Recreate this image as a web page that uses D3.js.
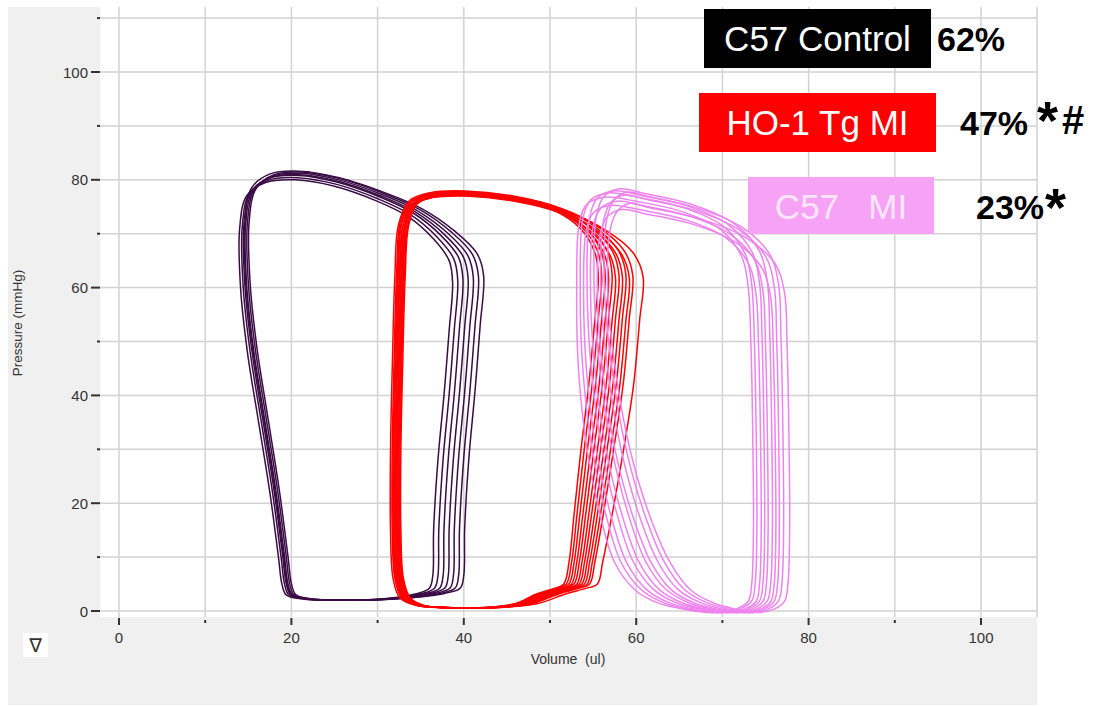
<!DOCTYPE html>
<html>
<head>
<meta charset="utf-8">
<script src="https://cdn.jsdelivr.net/npm/d3@7"></script>
<style>
  body { margin: 0; background: #fff; }
  svg { display: block; font-family: "Liberation Sans", Arial, sans-serif; }
</style>
</head>
<body>
<svg id="chart" width="1102" height="707"></svg>
<script>
// axis ticks
const xMajor = [0, 20, 40, 60, 80, 100];
const xMinor = [10, 30, 50, 70, 90];
const yMajor = [0, 20, 40, 60, 80, 100];
const yMinor = [10, 30, 50, 70, 90, 110];

// loop outlines: [volume, pressure, left weight, right weight]
const controlLoop = [
  [19.4, 3.0, 1, 0], [21.5, 2.2, 0.8, 0], [26, 2.0, 0.5, 0.2], [31, 2.3, 0.2, 0.5],
  [34.5, 3.2, 0, 0.9], [36.0, 4.2, 0, 1], [36.4, 6.5, 0, 1], [36.5, 15, 0, 1],
  [37.0, 28, 0, 1], [37.7, 40, 0, 1], [38.3, 52, 0, 1], [38.7, 61, 0, 1],
  [38.3, 65, 0, 0.9], [36.5, 69, 0, 0.7], [33.5, 73.2, 0, 0.45], [30, 76.0, 0.1, 0.25],
  [25, 78.8, 0.3, 0.1], [20.5, 80.0, 0.6, 0], [17.0, 79.5, 0.9, 0], [14.8, 77.0, 1, 0],
  [14.0, 71, 1, 0], [14.1, 60, 1, 0], [14.9, 48, 1, 0], [16.2, 35, 1, 0],
  [17.5, 22, 1, 0], [18.5, 10, 1, 0], [18.9, 5, 1, 0]
];
// per cycle: [left shift, right shift, pressure change]
const controlCycles = [
  [0, 0, 0], [0.3, 0.6, 0.005], [0.5, 1.2, 0.01], [0.7, 1.8, 0.012],
  [0.9, 2.4, 0.015], [1.1, 3.0, 0.018], [0.6, 3.6, 0.02]
];

const hoLoop = [
  [32.6, 2.4, 1, 0], [34.5, 1.0, 0.8, 0], [38, 0.6, 0.5, 0.1], [43, 0.7, 0.2, 0.3],
  [46, 1.4, 0, 0.5], [48.5, 3.2, 0, 0.65], [50.5, 4.2, 0, 0.7], [51.6, 5.0, 0, 0.75],
  [52.2, 9, 0, 0.75], [52.8, 18, 0, 0.85], [53.6, 30, 0, 0.95], [54.5, 42, 0, 1],
  [55.2, 54, 0, 1], [55.6, 62, 0, 1], [55.2, 66.5, 0, 0.85], [53.5, 71.0, 0, 0.5],
  [50.5, 74.3, 0, 0.2], [46, 76.3, 0.1, 0], [40, 77.3, 0.3, 0], [36, 77.0, 0.6, 0],
  [33.5, 75.5, 0.9, 0], [32.4, 71.5, 1, 0], [32.0, 62, 1, 0], [31.7, 45, 1, 0],
  [31.5, 30, 1, 0], [31.5, 15, 1, 0], [31.8, 6, 1, 0]
];
const hoCycles = [
  [0, 0, 0], [0.3, 0.4, 0.003], [0.6, 0.8, 0.006], [0.9, 1.2, 0], [0.2, 1.6, 0.008],
  [0.5, 2.0, -0.004], [0.8, 2.4, 0.004], [1.1, 2.8, 0], [0.4, 3.2, 0.006],
  [0.7, 3.6, -0.003], [1.0, 4.0, 0.005], [1.2, 5.2, 0]
];

const miLoop = [
  [62.5, 1.5, 1.8, 0], [66, 0.2, 1.4, 0.2], [69, -0.3, 0.8, 0.5], [71.5, 0.3, 0.3, 0.8],
  [73.0, 1.8, 0, 1], [73.4, 5, 0, 1], [73.6, 15, 0, 1], [73.5, 35, 0, 1],
  [73.3, 50, 0, 1], [73.0, 60, 0, 1], [72.3, 65.5, 0, 0.9], [70.0, 70.5, 0, 0.6],
  [65.5, 74.0, 0.1, 0.3], [60, 76.0, 0.4, 0], [56.5, 76.8, 0.8, 0], [54.3, 75.5, 1, 0],
  [53.4, 72, 1, 0], [53.1, 60, 1, 0], [53.3, 45, 1.2, 0], [54.3, 30, 1.4, 0],
  [55.8, 18, 1.6, 0], [57.5, 9, 1.8, 0], [59.8, 4, 1.8, 0]
];
const miCycles = [
  [0, 0, 0], [0.4, 0.4, 0.01], [0.8, 0.9, -0.02], [1.2, 1.3, 0.015], [1.6, 1.7, -0.01],
  [2.0, 2.2, 0.02], [2.4, 2.6, -0.03], [2.8, 3.0, 0.005], [3.2, 3.5, 0.012], [3.6, 4.2, -0.015]
];

const groups = [
  { name: 'C57 Control', loop: controlLoop, cycles: controlCycles, color: '#3a0c44' },
  { name: 'HO-1 Tg MI', loop: hoLoop, cycles: hoCycles, color: '#ff0000' },
  { name: 'C57   MI', loop: miLoop, cycles: miCycles, color: '#ee82ee' }
];

// legend rows: label, box colour, text colour, percent
const legendLabels = ['C57 Control', 'HO-1 Tg MI', 'C57   MI'];
const legendFill = ['#000000', '#ff0000', '#f7a3f5'];
const legendText = ['#ffffff', '#ffffff', '#fde6fc'];
const legendPct = ['62%', '47%', '23%'];

const svg = d3.select('#chart');

const x = d3.scaleLinear().domain([0, 100]).range([119, 981]);
const y = d3.scaleLinear().domain([0, 110]).range([611, 18.1]);

// panel + plot area
svg.append('rect').attr('x', 8).attr('y', 7).attr('width', 1029).attr('height', 698).attr('fill', '#f0f0f0');
svg.append('rect').attr('x', 100).attr('y', 7).attr('width', 937).attr('height', 610).attr('fill', '#fff');

svg.append('defs').append('clipPath').attr('id', 'plotclip')
  .append('rect').attr('x', 100).attr('y', 7).attr('width', 937).attr('height', 610);

const grid = svg.append('g').attr('stroke', '#d2d2d2').attr('stroke-width', 1.5);
grid.selectAll('line.v').data(x.ticks(10)).enter().append('line')
  .attr('x1', d => x(d)).attr('x2', d => x(d)).attr('y1', 7).attr('y2', 617);
grid.selectAll('line.h').data(y.ticks(11)).enter().append('line')
  .attr('y1', d => y(d)).attr('y2', d => y(d)).attr('x1', 100).attr('x2', 1037);
grid.append('line').attr('x1', 1037).attr('x2', 1037).attr('y1', 7).attr('y2', 617);

// y axis
const yAx = svg.append('g').attr('fill', '#333').attr('font-size', 15);
yAx.selectAll('rect.maj').data(yMajor).enter().append('rect')
  .attr('x', 91).attr('y', d => y(d) - 1).attr('width', 9).attr('height', 2).attr('fill', '#333');
yAx.selectAll('rect.min').data(yMinor).enter().append('rect')
  .attr('x', 97).attr('y', d => y(d) - 1).attr('width', 3).attr('height', 2).attr('fill', '#333');
yAx.selectAll('text').data(yMajor).enter().append('text')
  .attr('x', 88).attr('y', d => y(d) + 5.5).attr('text-anchor', 'end').text(d => d);

// x axis
const xAx = svg.append('g').attr('fill', '#333').attr('font-size', 15);
xAx.selectAll('rect.maj').data(xMajor).enter().append('rect')
  .attr('x', d => x(d) - 1).attr('y', 618).attr('width', 2).attr('height', 7).attr('fill', '#333');
xAx.selectAll('rect.min').data(xMinor).enter().append('rect')
  .attr('x', d => x(d) - 1).attr('y', 620).attr('width', 2).attr('height', 3).attr('fill', '#333');
xAx.selectAll('text').data(xMajor).enter().append('text')
  .attr('x', d => x(d)).attr('y', 643).attr('text-anchor', 'middle').text(d => d);

svg.append('text').attr('x', 568).attr('y', 664).attr('text-anchor', 'middle')
  .attr('font-size', 14).attr('fill', '#333').style('white-space', 'pre').text('Volume  (ul)');
svg.append('text').attr('transform', 'translate(22,323) rotate(-90)').attr('text-anchor', 'middle')
  .attr('font-size', 13.5).attr('fill', '#333').text('Pressure (mmHg)');

// little menu marker bottom-left
svg.append('rect').attr('x', 23).attr('y', 633).attr('width', 25).attr('height', 24).attr('fill', '#fff');
svg.append('text').attr('x', 35.5).attr('y', 652).attr('text-anchor', 'middle')
  .attr('font-size', 19).attr('font-family', 'DejaVu Sans').attr('fill', '#333').text('\u2207');

// pressure-volume loops
const line = d3.line()
  .x(d => x(d[0])).y(d => y(d[1]))
  .curve(d3.curveCatmullRomClosed.alpha(0.5));

const loopsG = svg.append('g').attr('clip-path', 'url(#plotclip)');
groups.forEach(g => {
  const paths = g.cycles.map(c => g.loop.map(p => [
    p[0] + c[0] * p[2] + c[1] * p[3],
    p[1] * (1 + c[2])
  ]));
  loopsG.append('g').selectAll('path').data(paths).enter().append('path')
    .attr('d', line).attr('fill', 'none')
    .attr('stroke', g.color).attr('stroke-width', 1.5);
});

// legend
const boxX = [704, 699, 748];
const boxY = [9, 93, 177];
const boxW = [227, 237, 186];
const boxH = [59, 59, 57];
const pctX = [937, 960, 976];
const leg = svg.append('g');
legendLabels.forEach((lab, i) => {
  leg.append('rect').attr('x', boxX[i]).attr('y', boxY[i]).attr('width', boxW[i]).attr('height', boxH[i])
    .attr('fill', legendFill[i]);
  leg.append('text').attr('x', boxX[i] + boxW[i] / 2).attr('y', boxY[i] + 42)
    .attr('text-anchor', 'middle').attr('font-size', 35).attr('fill', legendText[i])
    .style('white-space', 'pre').text(lab);
  leg.append('text').attr('x', pctX[i]).attr('y', boxY[i] + 42)
    .attr('font-size', 34).attr('font-weight', 'bold').attr('fill', '#000').text(legendPct[i]);
});
// significance marks
leg.append('text').attr('x', 1037).attr('y', 139).attr('font-size', 54).attr('font-weight', 'bold').text('*');
leg.append('text').attr('x', 1062).attr('y', 134).attr('font-size', 40).attr('font-weight', 'bold').text('#');
leg.append('text').attr('x', 1045).attr('y', 226).attr('font-size', 54).attr('font-weight', 'bold').text('*');
</script>
</body>
</html>
